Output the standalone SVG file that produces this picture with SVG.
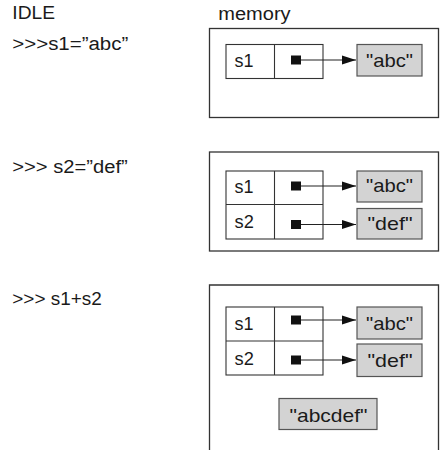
<svg xmlns="http://www.w3.org/2000/svg" width="440" height="450" viewBox="0 0 440 450">
<style>
text{font-family:"Liberation Sans",Arial,sans-serif;font-size:18px;fill:#1a1a1a}
.panel{fill:#fff;stroke:#333;stroke-width:1.3}
.cell{fill:#fff;stroke:#333;stroke-width:1.1}
.val{fill:#d3d3d3;stroke:#555;stroke-width:1.2}
.ptr{fill:#111}
.conn line{stroke:#222;stroke-width:1.1}
.mid{text-anchor:middle;font-size:19px}
</style>
<defs>
<marker id="ah" markerWidth="14" markerHeight="10" refX="14" refY="5" orient="auto" markerUnits="userSpaceOnUse">
<path d="M0,0.5 L14,5 L0,9.5 Z" fill="#111"/>
</marker>
</defs>
<rect width="440" height="450" fill="#fff"/>
<g id="labels">
<text x="12.3" y="19.3" textLength="42.7" lengthAdjust="spacingAndGlyphs">IDLE</text>
<text x="218.3" y="19.5" textLength="72.3" lengthAdjust="spacingAndGlyphs">memory</text>
<text x="12.3" y="50" textLength="116" lengthAdjust="spacingAndGlyphs">&gt;&gt;&gt;s1=”abc”</text>
<text x="12.3" y="173.3" textLength="115.4" lengthAdjust="spacingAndGlyphs">&gt;&gt;&gt; s2=”def”</text>
<text x="12.3" y="305" textLength="89.4" lengthAdjust="spacingAndGlyphs">&gt;&gt;&gt; s1+s2</text>
</g>
<g id="panel1">
<rect class="panel" x="209.5" y="28.5" width="229" height="89"/>
</g>
<g id="panel2">
<rect class="panel" x="209.5" y="152" width="229" height="99"/>
</g>
<g id="panel3">
<path class="panel" d="M209.5,451 V285 H438.5 V451"/>
</g>
<g id="vars1">
<rect class="cell" x="226" y="44.5" width="97" height="34"/>
<line x1="274.5" y1="44.5" x2="274.5" y2="78.5" stroke="#333" stroke-width="1.1"/>
<text x="234.5" y="67" textLength="19" lengthAdjust="spacingAndGlyphs">s1</text>
<rect class="ptr" x="291" y="55.5" width="10" height="9"/>
</g>
<g id="vars2">
<rect class="cell" x="226" y="171" width="97" height="68"/>
<line x1="226" y1="204.5" x2="323" y2="204.5" stroke="#333" stroke-width="1.1"/>
<line x1="274.5" y1="171" x2="274.5" y2="239" stroke="#333" stroke-width="1.1"/>
<text x="234.5" y="193.3" textLength="19" lengthAdjust="spacingAndGlyphs">s1</text>
<text x="234.5" y="228.3" textLength="19.3" lengthAdjust="spacingAndGlyphs">s2</text>
<rect class="ptr" x="291" y="181.5" width="10" height="9"/>
<rect class="ptr" x="291" y="220" width="10" height="9"/>
</g>
<g id="vars3">
<rect class="cell" x="226" y="307" width="97" height="68"/>
<line x1="226" y1="341" x2="323" y2="341" stroke="#333" stroke-width="1.1"/>
<line x1="274.5" y1="307" x2="274.5" y2="375" stroke="#333" stroke-width="1.1"/>
<text x="234.5" y="329.5" textLength="19" lengthAdjust="spacingAndGlyphs">s1</text>
<text x="234.5" y="364.5" textLength="19.3" lengthAdjust="spacingAndGlyphs">s2</text>
<rect class="ptr" x="291" y="315.5" width="10" height="9"/>
<rect class="ptr" x="291" y="355.5" width="10" height="9"/>
</g>
<g id="str1_abc">
<rect class="val" x="357" y="44.5" width="65" height="31.5"/>
<text class="mid" x="389.5" y="66.7" textLength="47" lengthAdjust="spacingAndGlyphs">"abc"</text>
</g>
<g id="str2_abc">
<rect class="val" x="357" y="171" width="65" height="31"/>
<text class="mid" x="389.5" y="192" textLength="47" lengthAdjust="spacingAndGlyphs">"abc"</text>
</g>
<g id="str2_def">
<rect class="val" x="357" y="208.5" width="65" height="30.5"/>
<text class="mid" x="390" y="230" textLength="45" lengthAdjust="spacingAndGlyphs">"def"</text>
</g>
<g id="str3_abc">
<rect class="val" x="357" y="307" width="65" height="32"/>
<text class="mid" x="389.5" y="330" textLength="47" lengthAdjust="spacingAndGlyphs">"abc"</text>
</g>
<g id="str3_def">
<rect class="val" x="357" y="344" width="65" height="32.5"/>
<text class="mid" x="390" y="366.7" textLength="45" lengthAdjust="spacingAndGlyphs">"def"</text>
</g>
<g id="str3_abcdef">
<rect class="val" x="279" y="398.5" width="98" height="31"/>
<text class="mid" x="328.5" y="421.5" textLength="78" lengthAdjust="spacingAndGlyphs">"abcdef"</text>
</g>
<g id="connectors" class="conn">
<line x1="301" y1="60" x2="356" y2="60" marker-end="url(#ah)"/>
<line x1="301" y1="186" x2="356" y2="186" marker-end="url(#ah)"/>
<line x1="301" y1="224.5" x2="356" y2="224.5" marker-end="url(#ah)"/>
<line x1="301" y1="320" x2="356" y2="320" marker-end="url(#ah)"/>
<line x1="301" y1="360" x2="356" y2="360" marker-end="url(#ah)"/>
</g>
</svg>
